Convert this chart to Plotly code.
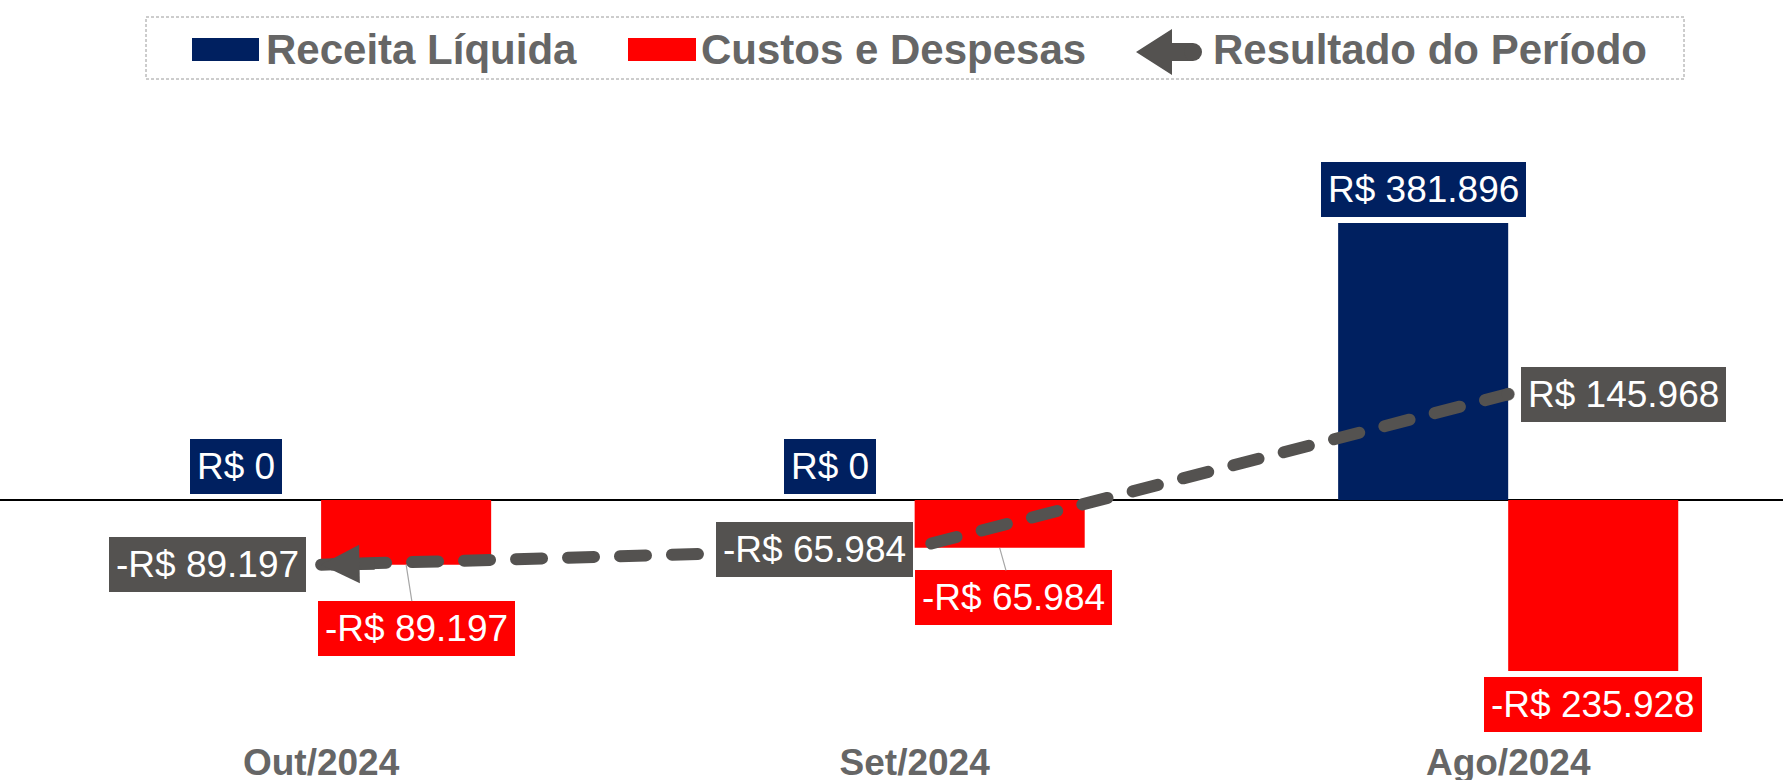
import plotly.graph_objects as go

# ---------------- data ----------------
categories = ["Out/2024", "Set/2024", "Ago/2024"]
receita = [0, 0, 381896]
custos = [-89197, -65984, -235928]
resultado = [-89197, -65984, 145968]
legend_names = ["Receita Líquida", "Custos e Despesas", "Resultado do Período"]


def brl(v):
    s = f"{abs(v):,.0f}".replace(",", ".")
    return ("-R$ " if v < 0 else "R$ ") + s


# ---------------- layout constants ----------------
W, H = 1783, 780
MB = 40
PH = H - MB
X0, X1 = -0.541, 2.463
Y_TOP, Y_BOT = 689350, -330888
BW = 0.2865

NAVY = "#002060"
RED = "#FF0000"
GRAY = "#545250"
TXT = "#666666"
FONT = "Arial, Liberation Sans, sans-serif"
LBL = 37
PAD = 7


def py(p):  # pixel (from top) -> paper y
    return (PH - p) / PH


def pxx(p):  # pixel -> paper x
    return p / W


xs = list(range(len(categories)))

fig = go.Figure()
fig.add_trace(go.Bar(x=xs, y=receita, width=BW, offset=-BW, name=legend_names[0],
                     marker=dict(color=NAVY, line=dict(width=0)), showlegend=False))
fig.add_trace(go.Bar(x=xs, y=custos, width=BW, offset=0, name=legend_names[1],
                     marker=dict(color=RED, line=dict(width=0)), showlegend=False))
fig.add_trace(go.Scatter(x=xs, y=resultado, mode="lines+markers", name=legend_names[2],
                         line=dict(color=GRAY, width=12, dash="26px,26px"),
                         marker=dict(size=[0, 0, 13], color=GRAY, line=dict(width=0)),
                         showlegend=False))

ann = []
# revenue labels
for i, v in zip(xs, receita):
    ann.append(dict(x=i - BW / 2, y=v, xref="x", yref="y", text=brl(v), showarrow=False,
                    yanchor="bottom", yshift=6, bgcolor=NAVY, borderpad=PAD, borderwidth=0,
                    font=dict(family=FONT, size=LBL, color="white")))
# cost labels
cost_off = [(10, 64, True), (14, 50, True), (0, 33, False)]
for i, v, (ax, ay, arr) in zip(xs, custos, cost_off):
    d = dict(x=i + BW / 2, y=v, xref="x", yref="y", text=brl(v), bgcolor=RED,
             borderpad=PAD, borderwidth=0, font=dict(family=FONT, size=LBL, color="white"))
    if arr:
        d.update(showarrow=True, arrowhead=0, arrowwidth=1.2, arrowcolor="#A6A6A6",
                 ax=ax, ay=ay, axref="pixel", ayref="pixel")
    else:
        d.update(showarrow=False, yanchor="top", yshift=-6)
    ann.append(d)
# result labels
res_pos = [("right", -15, 0), ("right", -2, -2), ("left", 13, 0)]
for i, v, (xa, xsft, ysft) in zip(xs, resultado, res_pos):
    ann.append(dict(x=i, y=v, xref="x", yref="y", text=brl(v), showarrow=False,
                    xanchor=xa, xshift=xsft, yshift=ysft, bgcolor=GRAY, borderpad=PAD,
                    borderwidth=0, font=dict(family=FONT, size=LBL, color="white")))
# arrow head at the start of the result line
ann.append(dict(x=xs[0], y=resultado[0], xref="x", yref="y", text="", showarrow=True,
                arrowhead=2, arrowwidth=12, arrowsize=0.64, arrowcolor=GRAY,
                ax=55, ay=-1, axref="pixel", ayref="pixel"))

# ---------------- manual legend ----------------
def ppath(points):
    return "M " + " L ".join(f"{pxx(a):.5f},{py(b):.5f}" for a, b in points) + " Z"


shapes = [
    dict(type="rect", xref="paper", yref="paper", x0=pxx(146), x1=pxx(1684), y0=py(79), y1=py(17),
         line=dict(color="#9A9A9A", width=1, dash="3px,2px"), fillcolor="rgba(0,0,0,0)"),
    dict(type="rect", xref="paper", yref="paper", x0=pxx(192), x1=pxx(259), y0=py(61), y1=py(38),
         line=dict(width=0), fillcolor=NAVY),
    dict(type="rect", xref="paper", yref="paper", x0=pxx(628), x1=pxx(696), y0=py(61), y1=py(38),
         line=dict(width=0), fillcolor=RED),
    dict(type="path", xref="paper", yref="paper",
         path=ppath([(1136, 52), (1172, 29), (1172, 43), (1193, 43), (1193, 61),
                     (1172, 61), (1172, 75)]),
         line=dict(width=0), fillcolor=GRAY),
    dict(type="circle", xref="paper", yref="paper", x0=pxx(1184), x1=pxx(1202), y0=py(61), y1=py(43),
         line=dict(width=0), fillcolor=GRAY),
]
leg_font = dict(family=FONT, size=42, color=TXT, weight="bold")
for name, xpos in zip(legend_names, [264, 699, 1211]):
    ann.append(dict(x=pxx(xpos), y=py(50), xref="paper", yref="paper", text=name,
                    showarrow=False, xanchor="left", yanchor="middle", font=leg_font))

fig.update_layout(
    width=W, height=H,
    margin=dict(l=0, r=0, t=0, b=MB, pad=0),
    paper_bgcolor="white", plot_bgcolor="white",
    barmode="overlay",
    showlegend=False,
    annotations=ann,
    shapes=shapes,
    xaxis=dict(range=[X0, X1], tickvals=xs, ticktext=categories, showgrid=False,
               zeroline=False, showline=False, ticks="", automargin=False,
               ticklabelstandoff=-3,
               tickfont=dict(family=FONT, size=37, color=TXT, weight="bold")),
    yaxis=dict(range=[Y_BOT, Y_TOP], showgrid=False, showticklabels=False, ticks="",
               automargin=False,
               zeroline=True, zerolinecolor="black", zerolinewidth=1.5, showline=False),
)

post = """
document.body.style.margin='0';
document.body.style.padding='0';
document.querySelectorAll('.scatterlayer .js-line').forEach(function(p){
  p.style.strokeLinecap='round';
  p.style.strokeDasharray='26px,26px';
  p.style.strokeDashoffset='13px';
});
"""

fig.write_html("out.html", post_script=post, config={"displayModeBar": False})
